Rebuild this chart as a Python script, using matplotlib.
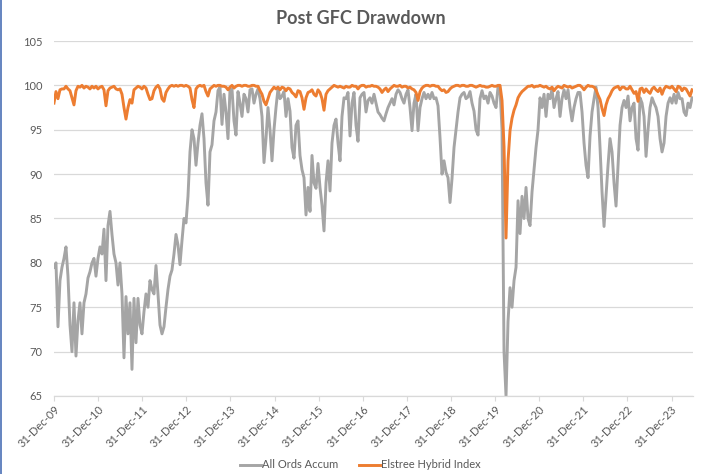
import pandas as pd
import matplotlib
matplotlib.use("Agg")
import matplotlib.pyplot as plt
import matplotlib.dates as mdates
from matplotlib.lines import Line2D

# Drawdown from previous peak (%), sampled evenly from 31-Dec-09 to mid-2024
start_date = "2009-12-31"
end_date = "2024-06-18"

all_ords = [
    79.5, 80.0, 72.8, 78.0, 79.5, 80.5, 81.8, 78.5, 73.0, 70.0,
    75.5, 69.5, 73.5, 75.5, 72.0, 75.5, 76.5, 78.3, 79.0, 80.0,
    80.5, 78.5, 80.5, 81.8, 81.0, 83.8, 78.0, 84.2, 85.8, 83.2,
    81.0, 80.0, 77.5, 80.0, 76.5, 69.3, 76.2, 72.0, 75.5, 68.0,
    76.0, 71.0, 76.0, 73.0, 72.0, 74.5, 76.5, 75.0, 78.0, 77.0,
    76.5, 79.7, 76.5, 73.0, 72.0, 72.8, 75.0, 77.0, 78.5, 79.2,
    81.0, 83.2, 82.0, 79.8, 82.5, 85.0, 84.5, 87.5, 92.5, 95.0,
    94.0, 91.0, 93.5, 95.5, 96.8, 94.0, 89.0, 86.5, 92.5, 93.3,
    96.0, 97.0, 99.4, 99.8, 95.6, 99.0, 97.0, 94.0, 99.5, 99.6,
    96.0, 94.4, 99.3, 98.0, 96.5, 99.0, 98.5, 97.0, 99.5, 99.6,
    98.0, 99.0, 99.6, 98.5, 96.5, 91.3, 94.0, 97.5, 95.0, 91.5,
    95.0, 97.5, 99.6, 98.5, 98.8, 99.3, 96.5, 98.5, 97.1, 93.0,
    91.8, 95.5, 96.0, 92.1, 90.5, 89.6, 85.4, 88.5, 85.8, 92.1,
    89.0, 88.4, 91.2, 88.5, 86.5, 83.6, 89.0, 91.5, 88.1, 93.5,
    95.5, 96.2, 93.5, 91.5, 96.5, 98.6, 98.5, 99.2, 94.3, 98.0,
    99.2, 95.5, 93.7, 98.6, 99.0, 99.2, 97.0, 98.3, 98.6, 98.0,
    99.0, 98.0, 97.0, 96.7, 96.3, 96.0, 96.8, 97.5, 98.0, 98.5,
    97.8, 99.0, 99.5, 99.2, 98.5, 98.0, 99.0, 99.5, 97.5, 94.9,
    98.0, 99.0, 94.9, 97.5, 98.5, 99.2, 98.5, 99.0, 98.5, 99.2,
    98.5, 98.6, 97.7, 94.1, 90.0, 91.5, 90.2, 89.6, 86.8, 89.5,
    93.0, 95.0, 97.0, 98.6, 99.0, 99.2, 98.5, 98.7, 99.3, 98.0,
    97.1, 95.0, 94.4, 98.5, 99.4, 98.5, 98.8, 98.0, 99.2, 98.8,
    98.0, 97.5, 99.8, 99.5, 95.0, 70.0, 65.0, 73.4, 77.2, 75.0,
    78.0, 79.5, 87.0, 83.3, 87.5, 85.0, 88.5, 85.0, 84.2, 88.0,
    90.5, 93.0, 95.0, 98.6, 97.5, 99.0, 96.5, 99.0, 98.5, 99.6,
    97.5, 98.5, 99.3, 96.5, 98.5, 99.5, 98.5, 99.5, 97.5, 96.0,
    97.5, 98.5, 99.2, 99.2, 97.0, 93.5, 91.0, 89.6, 94.3, 97.0,
    98.5, 99.8, 97.5, 93.0, 88.0, 84.1, 87.5, 91.0, 94.0, 92.5,
    89.0, 86.4, 91.0, 95.5, 97.5, 98.3, 97.5, 98.8, 96.0, 97.5,
    98.0, 94.0, 92.7, 98.6, 98.0, 96.5, 92.0, 95.0, 97.5, 98.6,
    98.0, 97.5, 96.5, 94.0, 92.5, 93.5, 96.5, 98.0, 98.6, 98.0,
    99.0, 98.0, 99.2, 98.5, 98.5, 97.0, 96.6, 98.0, 97.5, 98.6,
]

elstree = [
    98.0, 99.3, 98.5, 99.5, 99.6, 99.6, 99.9, 99.6, 99.4, 98.6,
    97.8, 99.4, 99.9, 99.8, 100.0, 99.7, 99.9, 99.8, 99.6, 99.9,
    99.7, 99.9, 99.6, 99.8, 99.9, 99.5, 97.7, 99.4, 99.7, 99.8,
    99.9, 99.6, 99.5, 99.6, 99.0, 97.5, 96.2, 97.5, 98.4, 98.0,
    99.5, 99.7, 99.9, 99.8, 99.6, 99.9, 99.7, 99.0, 98.4, 98.5,
    99.4, 99.8, 100.0, 99.6, 98.5, 98.2, 99.2, 99.6, 99.9, 100.0,
    99.9, 100.0, 99.9, 100.0, 100.0, 99.9, 100.0, 99.9, 99.7, 98.4,
    97.5, 99.6, 99.9, 100.0, 99.9, 100.0, 99.3, 98.8, 99.6, 99.8,
    100.0, 99.9, 100.0, 100.0, 99.9, 99.9, 99.8, 99.5, 99.8, 100.0,
    99.7, 99.9, 100.0, 100.0, 99.9, 100.0, 100.0, 99.9, 99.9, 100.0,
    100.0, 99.9, 99.9, 99.4, 99.0, 98.2, 97.8, 98.5, 99.2, 99.5,
    99.8, 99.6, 99.8, 99.5, 99.8, 99.7, 99.4, 99.7, 99.6, 99.2,
    99.0, 98.7, 99.4, 99.3, 98.6, 97.3, 98.6, 99.2, 99.3, 99.5,
    99.0, 98.8, 99.5, 99.2, 98.5, 97.2, 99.0, 99.4, 99.6, 99.8,
    100.0, 99.9, 99.8, 99.9, 99.8, 99.7, 99.9, 99.8, 99.8, 100.0,
    99.9, 99.9, 99.6, 99.9, 100.0, 100.0, 99.8, 99.9, 99.9, 100.0,
    99.9, 99.9, 99.8, 99.6, 99.2, 99.5, 99.7, 99.3, 99.6, 99.8,
    100.0, 99.9, 99.9, 100.0, 99.8, 99.9, 99.9, 99.7, 99.8, 99.6,
    99.5, 99.2, 98.3, 99.3, 99.7, 99.9, 100.0, 100.0, 99.9, 100.0,
    100.0, 99.9, 99.9, 99.6, 99.4, 99.5, 99.2, 99.3, 99.6, 99.8,
    99.9, 100.0, 100.0, 99.9, 100.0, 100.0, 99.9, 99.9, 100.0, 100.0,
    99.9, 99.8, 99.9, 100.0, 99.9, 99.9, 99.8, 99.8, 99.9, 100.0,
    99.9, 99.9, 100.0, 100.0, 98.3, 93.1, 82.8, 91.5, 94.9, 96.3,
    97.2, 97.8, 98.6, 99.0, 99.3, 99.5, 99.7, 99.9, 99.9, 100.0,
    99.8, 99.9, 99.9, 100.0, 99.9, 99.8, 99.9, 99.7, 99.6, 99.8,
    99.4, 99.7, 99.9, 99.8, 99.7, 100.0, 99.9, 99.8, 99.9, 99.7,
    99.8, 99.9, 100.0, 100.0, 99.8, 99.5, 99.8, 100.0, 99.9, 99.9,
    99.8, 99.5, 98.9, 98.4, 97.4, 96.6, 97.8, 98.5, 98.9, 99.4,
    99.7, 99.8, 99.9, 99.5, 99.8, 99.8, 99.6, 99.6, 99.9, 99.5,
    99.1, 99.3, 98.2, 99.6, 99.7, 99.2, 99.6, 99.3, 99.1, 99.6,
    99.8, 99.5, 99.3, 99.7, 99.0, 99.6, 99.9, 99.8, 99.7, 99.9,
    99.6, 99.3, 99.9, 99.8, 99.4, 99.7, 99.6, 99.2, 98.8, 99.5,
]

series_names = ["All Ords Accum", "Elstree Hybrid Index"]
series_colors = ["#A5A5A5", "#ED7D31"]
tick_years = list(range(2009, 2024))

TEXT = "#595959"
GRID = "#D9D9D9"


def main():
    plt.rcParams["font.family"] = ["Lato", "DejaVu Sans"]

    dates = pd.date_range(start_date, end_date, periods=len(all_ords))
    df = pd.DataFrame({series_names[0]: all_ords, series_names[1]: elstree}, index=dates)

    fig = plt.figure(figsize=(7.01, 4.74), dpi=100)
    ax = fig.add_axes([0.077, 0.1646, 0.9116, 0.7489])

    for name, color in zip(series_names, series_colors):
        ax.plot(df.index, df[name], color=color, lw=2.1, label=name,
                solid_joinstyle="round")

    style_axes(ax)

    fig.text(0.515, 0.962, "Post GFC Drawdown", ha="center", va="center",
             fontsize=13, fontweight="bold", color=TEXT)

    fig.legend(loc="center", bbox_to_anchor=(0.514, 0.019), ncol=2,
               frameon=False, fontsize=8, labelcolor=TEXT, handlelength=1.9,
               handletextpad=0.1, columnspacing=1.9)

    # thin selection border on left edge, as in the screenshot
    fig.add_artist(Line2D([0.0015, 0.0015], [0, 1], transform=fig.transFigure,
                          color="#4A6FB5", lw=1.2))

    fig.savefig("out.png", dpi=100)


def style_axes(ax):
    ax.set_ylim(65, 105)
    ax.set_yticks(range(65, 106, 5))
    ax.set_xlim(pd.Timestamp("2009-12-31"), pd.Timestamp("2024-06-26"))

    ticks = pd.to_datetime([f"{y}-12-31" for y in tick_years])
    ax.set_xticks(ticks)
    ax.xaxis.set_major_formatter(mdates.DateFormatter("%d-%b-%y"))

    ax.yaxis.grid(True, color=GRID, lw=0.9)
    ax.set_axisbelow(True)
    for side in ["top", "right", "left"]:
        ax.spines[side].set_visible(False)
    ax.spines["bottom"].set_color(GRID)
    ax.spines["bottom"].set_linewidth(0.9)

    ax.tick_params(axis="y", length=0, pad=8, labelsize=8, labelcolor=TEXT)
    ax.tick_params(axis="x", length=3.5, width=0.8, color=GRID, pad=2,
                   labelsize=8, labelcolor=TEXT)
    for lbl in ax.get_xticklabels():
        lbl.set_rotation(45)
        lbl.set_ha("right")
        lbl.set_rotation_mode("anchor")


main()
